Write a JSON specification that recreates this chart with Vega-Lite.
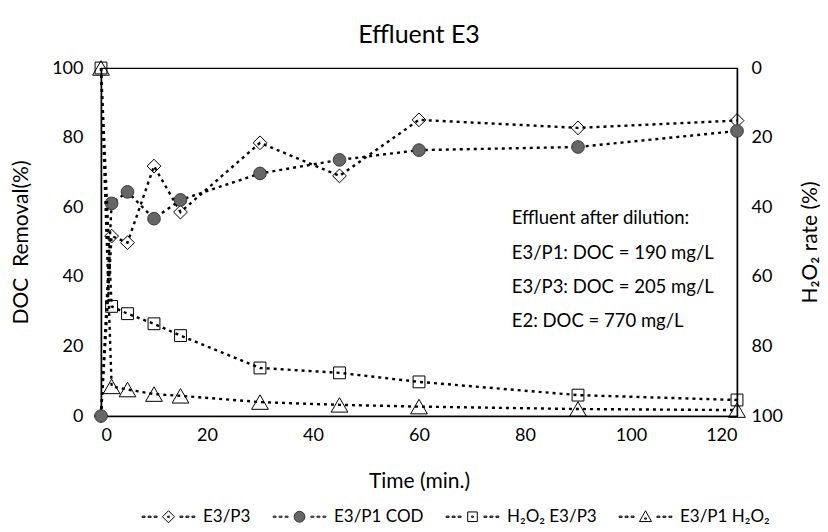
{
  "$schema": "https://vega.github.io/schema/vega-lite/v6.json",
  "width": 636,
  "height": 348,
  "autosize": {"type": "none"},
  "padding": {"left": 101, "top": 68, "right": 91, "bottom": 116},
  "title": {"text": "Effluent E3", "fontSize": 25, "font": "Lato", "fontWeight": "normal", "color": "black", "offset": 11},
  "config": {
    "font": "Lato",
    "view": {"stroke": "black", "strokeWidth": 1.2},
    "axis": {
      "domainColor": "black", "domainWidth": 1.5, "ticks": false, "grid": false,
      "labelFont": "Lato", "labelFontSize": 18, "labelColor": "black",
      "titleFont": "Lato", "titleFontSize": 21, "titleFontWeight": "normal", "titleColor": "black"
    }
  },
  "datasets": {
    "obs": [
      {"t": 0, "series": "E3/P3", "v": 0},
      {"t": 2, "series": "E3/P3", "v": 51.7},
      {"t": 5, "series": "E3/P3", "v": 49.8},
      {"t": 10, "series": "E3/P3", "v": 71.8},
      {"t": 15, "series": "E3/P3", "v": 58.6},
      {"t": 30, "series": "E3/P3", "v": 78.5},
      {"t": 45, "series": "E3/P3", "v": 69},
      {"t": 60, "series": "E3/P3", "v": 85.1},
      {"t": 90, "series": "E3/P3", "v": 82.8},
      {"t": 120, "series": "E3/P3", "v": 84.9},
      {"t": 0, "series": "E3/P1 COD", "v": 0},
      {"t": 2, "series": "E3/P1 COD", "v": 61.1},
      {"t": 5, "series": "E3/P1 COD", "v": 64.4},
      {"t": 10, "series": "E3/P1 COD", "v": 56.7},
      {"t": 15, "series": "E3/P1 COD", "v": 62.1},
      {"t": 30, "series": "E3/P1 COD", "v": 69.7},
      {"t": 45, "series": "E3/P1 COD", "v": 73.6},
      {"t": 60, "series": "E3/P1 COD", "v": 76.4},
      {"t": 90, "series": "E3/P1 COD", "v": 77.3},
      {"t": 120, "series": "E3/P1 COD", "v": 81.9},
      {"t": 0, "series": "H₂O₂ E3/P3", "v": 0},
      {"t": 2, "series": "H₂O₂ E3/P3", "v": 68.5},
      {"t": 5, "series": "H₂O₂ E3/P3", "v": 70.6},
      {"t": 10, "series": "H₂O₂ E3/P3", "v": 73.5},
      {"t": 15, "series": "H₂O₂ E3/P3", "v": 76.9},
      {"t": 30, "series": "H₂O₂ E3/P3", "v": 86.2},
      {"t": 45, "series": "H₂O₂ E3/P3", "v": 87.6},
      {"t": 60, "series": "H₂O₂ E3/P3", "v": 90.2},
      {"t": 90, "series": "H₂O₂ E3/P3", "v": 94},
      {"t": 120, "series": "H₂O₂ E3/P3", "v": 95.4},
      {"t": 0, "series": "E3/P1 H₂O₂", "v": 0},
      {"t": 2, "series": "E3/P1 H₂O₂", "v": 91.5},
      {"t": 5, "series": "E3/P1 H₂O₂", "v": 92.4},
      {"t": 10, "series": "E3/P1 H₂O₂", "v": 93.7},
      {"t": 15, "series": "E3/P1 H₂O₂", "v": 94.2},
      {"t": 30, "series": "E3/P1 H₂O₂", "v": 96},
      {"t": 45, "series": "E3/P1 H₂O₂", "v": 96.8},
      {"t": 60, "series": "E3/P1 H₂O₂", "v": 97.3},
      {"t": 90, "series": "E3/P1 H₂O₂", "v": 98},
      {"t": 120, "series": "E3/P1 H₂O₂", "v": 98.3}
    ],
    "notes": [
      {"nx": 77.5, "ny": 56.9, "label": "Effluent after dilution:"},
      {"nx": 77.5, "ny": 46.8, "label": "E3/P1: DOC = 190 mg/L"},
      {"nx": 77.5, "ny": 37.1, "label": "E3/P3: DOC = 205 mg/L"},
      {"nx": 77.5, "ny": 27.3, "label": "E2: DOC = 770 mg/L"}
    ]
  },
  "layer": [
    {
      "layer": [
        {
          "data": {"name": "obs"},
          "transform": [{"filter": {"field": "series", "oneOf": ["E3/P3", "E3/P1 COD"]}}],
          "mark": {"type": "line", "color": "black", "strokeWidth": 2.4, "strokeDash": [3, 4]},
          "encoding": {
            "x": {"field": "t", "type": "quantitative"},
            "y": {"field": "v", "type": "quantitative"},
            "detail": {"field": "series"}
          }
        },
        {
          "data": {"name": "obs"},
          "transform": [{"filter": {"field": "series", "equal": "E3/P3"}}],
          "mark": {"type": "point", "shape": "diamond", "filled": false, "stroke": "black", "strokeWidth": 1, "size": 190, "opacity": 1},
          "encoding": {
            "x": {"field": "t", "type": "quantitative"},
            "y": {"field": "v", "type": "quantitative"}
          }
        },
        {
          "data": {"name": "obs"},
          "transform": [{"filter": {"field": "series", "equal": "E3/P1 COD"}}],
          "mark": {"type": "point", "shape": "circle", "filled": true, "fill": "#666666", "stroke": "#3a3a3a", "strokeWidth": 1, "size": 160, "opacity": 1},
          "encoding": {
            "x": {"field": "t", "type": "quantitative"},
            "y": {"field": "v", "type": "quantitative"}
          }
        },
        {
          "data": {"name": "notes"},
          "mark": {"type": "text", "align": "left", "baseline": "middle", "font": "Lato", "fontSize": 18.5, "color": "black"},
          "encoding": {
            "x": {"field": "nx", "type": "quantitative"},
            "y": {"field": "ny", "type": "quantitative"},
            "text": {"field": "label"}
          }
        }
      ],
      "encoding": {
        "x": {"field": "t", "type": "quantitative", "scale": {"domain": [0, 120], "nice": false},
              "axis": {"title": "Time (min.)", "values": [0, 20, 40, 60, 80, 100, 120], "labelPadding": 10, "titlePadding": 26}},
        "y": {"field": "v", "type": "quantitative", "scale": {"domain": [0, 100], "nice": false},
              "axis": {"title": "DOC\u00a0\u00a0Removal(%)", "orient": "left", "values": [0, 20, 40, 60, 80, 100], "labelPadding": 18, "titlePadding": 20}}
      }
    },
    {
      "data": {"name": "obs"},
      "transform": [{"filter": {"field": "series", "oneOf": ["H₂O₂ E3/P3", "E3/P1 H₂O₂"]}}],
      "layer": [
        {
          "mark": {"type": "line", "color": "black", "strokeWidth": 2.4, "strokeDash": [3, 4]},
          "encoding": {"detail": {"field": "series"}}
        },
        {
          "transform": [{"filter": {"field": "series", "equal": "H₂O₂ E3/P3"}}],
          "mark": {"type": "point", "shape": "square", "filled": false, "stroke": "black", "strokeWidth": 1, "size": 140, "opacity": 1},
          "encoding": {}
        },
        {
          "transform": [{"filter": {"field": "series", "equal": "E3/P1 H₂O₂"}}],
          "mark": {"type": "point", "shape": "triangle-up", "filled": false, "stroke": "black", "strokeWidth": 1, "size": 280, "opacity": 1},
          "encoding": {}
        }
      ],
      "encoding": {
        "x": {"field": "t", "type": "quantitative", "scale": {"domain": [0, 120], "nice": false}},
        "y": {"field": "v", "type": "quantitative", "scale": {"domain": [0, 100], "nice": false, "reverse": true},
              "axis": {"title": "H₂O₂ rate (%)", "orient": "right", "values": [0, 20, 40, 60, 80, 100], "labelPadding": 14, "titlePadding": 38, "titleAngle": 270}}
      }
    },
    {
      "data": {"name": "obs"},
      "transform": [{"filter": "datum.t < 0"}],
      "mark": {"type": "point", "filled": true, "strokeWidth": 1, "opacity": 1},
      "encoding": {
        "shape": {
          "field": "series", "type": "nominal",
          "scale": {
            "domain": ["E3/P3", "E3/P1 COD", "H₂O₂ E3/P3", "E3/P1 H₂O₂"],
            "range": [
              "M-4.4,-0.1H-3.9V0.1H-4.4ZM-3.4,-0.1H-2.9V0.1H-3.4ZM-2.4,-0.1H-1.9V0.1H-2.4ZM1.9,-0.1H2.4V0.1H1.9ZM2.9,-0.1H3.4V0.1H2.9ZM3.9,-0.1H4.4V0.1H3.9ZM-1,0L0,-1L1,0L0,1ZM-0.15,-0.1H0.15V0.1H-0.15Z",
              "M-4.4,-0.1H-3.9V0.1H-4.4ZM-3.4,-0.1H-2.9V0.1H-3.4ZM-2.4,-0.1H-1.9V0.1H-2.4ZM1.9,-0.1H2.4V0.1H1.9ZM2.9,-0.1H3.4V0.1H2.9ZM3.9,-0.1H4.4V0.1H3.9ZM-0.9,0A0.9,0.9,0,1,1,0.9,0A0.9,0.9,0,1,1,-0.9,0Z",
              "M-4.4,-0.1H-3.9V0.1H-4.4ZM-3.4,-0.1H-2.9V0.1H-3.4ZM-2.4,-0.1H-1.9V0.1H-2.4ZM1.9,-0.1H2.4V0.1H1.9ZM2.9,-0.1H3.4V0.1H2.9ZM3.9,-0.1H4.4V0.1H3.9ZM-0.8,-0.8H0.8V0.8H-0.8ZM-0.15,-0.1H0.15V0.1H-0.15Z",
              "M-4.4,-0.1H-3.9V0.1H-4.4ZM-3.4,-0.1H-2.9V0.1H-3.4ZM-2.4,-0.1H-1.9V0.1H-2.4ZM1.9,-0.1H2.4V0.1H1.9ZM2.9,-0.1H3.4V0.1H2.9ZM3.9,-0.1H4.4V0.1H3.9ZM0,-1L1,0.8H-1ZM-0.15,0.2H0.15V0.4H-0.15Z"
            ]
          },
          "legend": {
            "title": null, "orient": "none", "direction": "horizontal", "legendX": 59, "legendY": 440,
            "labelFont": "Lato", "labelFontSize": 17, "labelColor": "black",
            "symbolSize": 144, "symbolStrokeWidth": 1,
            "labelOffset": 26, "columnPadding": 20
          }
        },
        "fill": {
          "field": "series", "type": "nominal",
          "scale": {
            "domain": ["E3/P3", "E3/P1 COD", "H₂O₂ E3/P3", "E3/P1 H₂O₂"],
            "range": ["white", "#666666", "white", "white"]
          },
          "legend": {
            "title": null, "orient": "none", "direction": "horizontal", "legendX": 59, "legendY": 440,
            "labelFont": "Lato", "labelFontSize": 17, "labelColor": "black",
            "symbolSize": 144, "symbolStrokeWidth": 1,
            "labelOffset": 26, "columnPadding": 20
          }
        },
        "stroke": {
          "field": "series", "type": "nominal",
          "scale": {
            "domain": ["E3/P3", "E3/P1 COD", "H₂O₂ E3/P3", "E3/P1 H₂O₂"],
            "range": ["black", "#333333", "black", "black"]
          },
          "legend": {
            "title": null, "orient": "none", "direction": "horizontal", "legendX": 59, "legendY": 440,
            "labelFont": "Lato", "labelFontSize": 17, "labelColor": "black",
            "symbolSize": 144, "symbolStrokeWidth": 1,
            "labelOffset": 26, "columnPadding": 20
          }
        }
      }
    }
  ],
  "resolve": {"scale": {"y": "independent"}, "axis": {"y": "independent"}}
}
